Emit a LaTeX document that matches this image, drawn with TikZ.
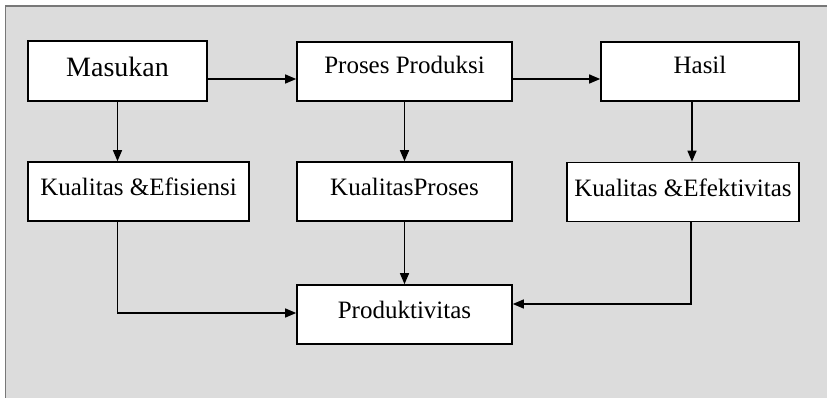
\documentclass[tikz,border=0pt]{standalone}
\usepackage{fontspec}
\setmainfont{Liberation Serif}
\usepackage{tikz}
\usetikzlibrary{arrows.meta, positioning, calc}
\usepackage{xcolor}
\definecolor{panel}{RGB}{220,220,220}
\definecolor{rim}{RGB}{120,120,120}

\begin{document}
\begin{tikzpicture}[x=1pt, y=-1pt,
  box/.style={draw=black, fill=white, line width=1.6pt, inner sep=0pt,
    text height=32pt, text depth=27pt, font=\fontsize{25}{30}\selectfont},
  link/.style={line width=1.4pt, -{Triangle[length=11pt, width=9pt]}}]
  \useasboundingbox (0,0) rectangle (827,398);
  % grey panel behind the chart
  \fill[panel] (5.5,6) rectangle (827,398);
  \draw[rim, line width=1.8pt] (5.5,398) -- (5.5,6) -- (827,6);
  % top row
  \node[box, minimum width=179pt, text height=36pt, text depth=24pt,
    font=\fontsize{28}{32}\selectfont] (mas) at (117.5, 71) {Masukan};
  \node[box, minimum width=215pt] (pro) at (404.5, 71.5) {Proses Produksi};
  \node[box, minimum width=198pt] (has) at (700, 71.5) {Hasil};
  % middle row
  \node[box, minimum width=221pt, text height=34pt, text depth=25pt] (efs) at (138.5, 191.5) {Kualitas \&Efisiensi};
  \node[box, minimum width=215pt, text height=34pt, text depth=25pt] (kpr) at (404.5, 191.5) {KualitasProses};
  \node[box, minimum width=232pt, text height=34pt, text depth=25pt] (efk) at (683, 192) {Kualitas \&Efektivitas};
  % bottom
  \node[box, minimum width=215pt, text height=33pt, text depth=26pt] (prd) at (404.5, 314.5) {Produktivitas};
  % connectors
  \draw[link] ([yshift=-8pt]mas.east) -- ([yshift=-8pt]mas.east -| pro.west);
  \draw[link] ([yshift=-7.5pt]pro.east) -- ([yshift=-7.5pt]pro.east -| has.west);
  \draw[link] (mas.south) -- (mas.south |- efs.north);
  \draw[link] (pro.south) -- (kpr.north);
  \draw[link] ([xshift=-8pt]has.south) -- ([xshift=-8pt]has.south |- efk.north);
  \draw[link] (kpr.south) -- (prd.north);
  \draw[link] (mas.south |- efs.south) |- ([yshift=1.5pt]prd.west);
  \draw[link] ([xshift=8pt]efk.south) |- ([yshift=10.5pt]prd.east);
\end{tikzpicture}
\end{document}
